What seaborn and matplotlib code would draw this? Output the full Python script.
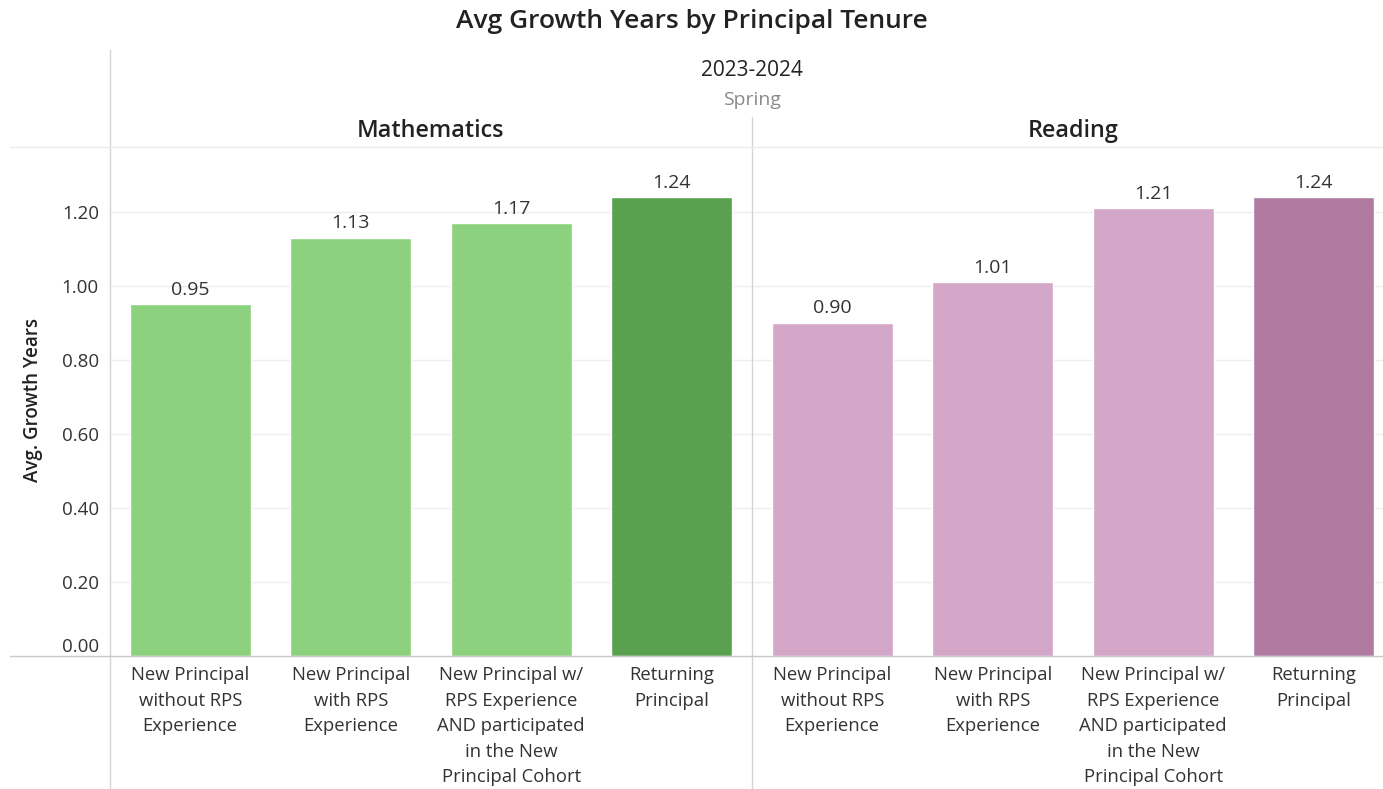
import matplotlib
matplotlib.use("Agg")
import matplotlib.pyplot as plt
from matplotlib.lines import Line2D
import seaborn as sns
import pandas as pd

# Data
tenure = [
    "New Principal\nwithout RPS\nExperience",
    "New Principal\nwith RPS\nExperience",
    "New Principal w/\nRPS Experience\nAND participated\nin the New\nPrincipal Cohort",
    "Returning\nPrincipal",
]
math_growth = [0.95, 1.13, 1.17, 1.24]
reading_growth = [0.90, 1.01, 1.21, 1.24]
math_colors = ["#8CD17D", "#8CD17D", "#8CD17D", "#59A14F"]
reading_colors = ["#D4A6C8", "#D4A6C8", "#D4A6C8", "#B07AA1"]
y_ticks = [0.0, 0.2, 0.4, 0.6, 0.8, 1.0, 1.2]

sns.set_theme(style="white")
plt.rcParams["font.family"] = ["Open Sans", "DejaVu Sans"]

W, H = 1383, 789
fig = plt.figure(figsize=(W / 100, H / 100), dpi=100)
fig.patch.set_facecolor("white")


def fx(px):
    return px / W


def fy(py):
    return 1 - py / H


top_px, base_px = 147, 656
panel_w = 642
y_max = (base_px - top_px) / 370.0

panels = [
    ("Mathematics", math_growth, math_colors, 110),
    ("Reading", reading_growth, reading_colors, 752),
]

text_color = "#333333"
grid_color = "#eeeeee"

for i, (subject, values, colors, left_px) in enumerate(panels):
    ax = fig.add_axes([fx(left_px), fy(base_px), panel_w / W, (base_px - top_px) / H])
    df = pd.DataFrame({"tenure": tenure, "growth": values})
    sns.barplot(
        data=df, x="tenure", y="growth", hue="tenure", order=tenure,
        hue_order=tenure, palette=colors, width=0.755, legend=False,
        saturation=1, ax=ax,
    )
    ax.set_ylim(0, y_max)
    ax.set_xlim(-0.5, 3.5)
    ax.set_yticks(y_ticks)
    for t in y_ticks[1:]:
        ax.axhline(t, color=grid_color, lw=1, zorder=0)
    for s in ax.spines.values():
        s.set_visible(False)
    ax.set_xlabel("")
    ax.set_ylabel("")
    # category labels under each bar, multi-line with generous spacing
    ax.set_xticks(range(len(tenure)))
    ax.set_xticklabels([])
    ax.tick_params(axis="x", length=0)
    for k, name in enumerate(tenure):
        ax.annotate(name, xy=(k, 0), xycoords=("data", "axes fraction"),
                    xytext=(0, -7.5), textcoords="offset points",
                    ha="center", va="top", fontsize=13.3, color=text_color,
                    linespacing=1.53, annotation_clip=False)
    if i == 0:
        ax.set_yticklabels([f"{t:.2f}" for t in y_ticks], fontsize=13.5,
                           color=text_color)
        ax.tick_params(axis="y", length=0, pad=8)
        ax.get_yticklabels()[0].set_verticalalignment("bottom")
        ax.set_ylabel("Avg. Growth Years", fontsize=13.5, color="#222222",
                      fontweight="semibold")
        ax.yaxis.set_label_coords(-0.104, 0.503)
    else:
        ax.set_yticklabels([])
        ax.tick_params(axis="y", length=0)
    for cont in ax.containers:
        ax.bar_label(cont, fmt="%.2f", padding=4, fontsize=14, color=text_color)
    fig.text(fx(left_px + panel_w / 2), fy(131), subject, ha="center", va="center",
             fontsize=16.8, fontweight="semibold", color="#222222")

# Frame lines of the table layout
line_col = "#d4d4d4"
fig.add_artist(Line2D([fx(110), fx(110)], [fy(50), fy(789)], color=line_col, lw=1))
fig.add_artist(Line2D([fx(752), fx(752)], [fy(117), fy(789)], color=line_col, lw=1))
fig.add_artist(Line2D([fx(10), 1], [fy(147), fy(147)], color="#ececec", lw=1))
fig.add_artist(Line2D([fx(10), 1], [fy(656), fy(656)], color="#c8c8c8", lw=1))

fig.text(0.5, fy(21), "Avg Growth Years by Principal Tenure", ha="center", va="center",
         fontsize=19, fontweight="semibold", color="#222222")
fig.text(fx(752), fy(70), "2023-2024", ha="center", va="center",
         fontsize=15, color="#222222")
fig.text(fx(752), fy(100), "Spring", ha="center", va="center",
         fontsize=14, color="#8a8a8a")

fig.savefig("out.png", dpi=100, facecolor="white")
